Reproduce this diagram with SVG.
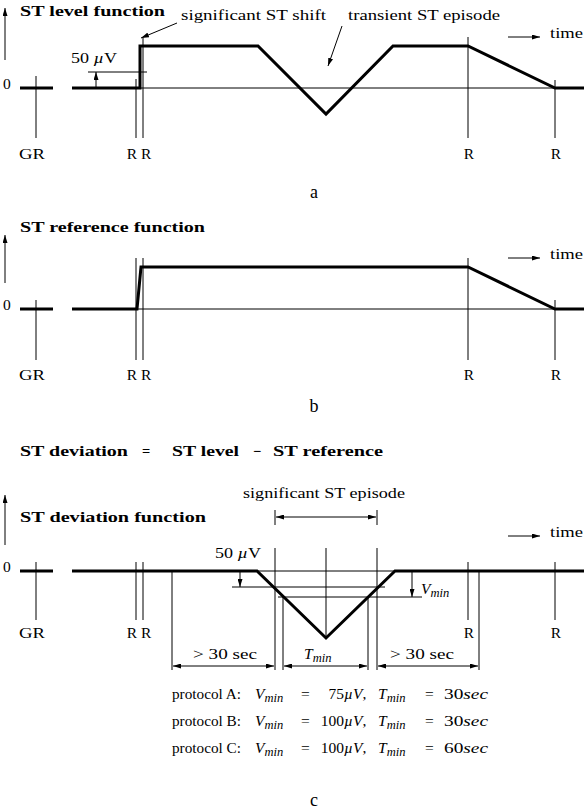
<svg xmlns="http://www.w3.org/2000/svg" width="584" height="810" viewBox="0 0 584 810">
<style>
text{font-family:"Liberation Serif","DejaVu Serif",serif;font-size:15.5px;fill:#000}
.b{font-weight:bold;font-size:14.5px}
.i{font-style:italic}
.sub{font-style:italic;font-size:12.5px}
.thin{stroke:#000;stroke-width:1;fill:none}
.thick{stroke:#000;stroke-width:3;fill:none;stroke-linejoin:miter}
.arr{stroke:#000;stroke-width:1;fill:none;marker-end:url(#ah)}
.dbl{stroke:#000;stroke-width:1;fill:none;marker-end:url(#ah);marker-start:url(#ah)}
.mid{text-anchor:middle}
.end{text-anchor:end}
.lbl{font-size:18px}
</style>
<defs>
<marker id="ah" viewBox="0 0 8 5" refX="8" refY="2.5" markerWidth="8" markerHeight="5" markerUnits="userSpaceOnUse" orient="auto-start-reverse">
<path d="M0,0 L8,2.5 L0,5 z" fill="#000"/>
</marker>
</defs>

<g id="panel-a">
<line class="arr" x1="5" y1="60" x2="5" y2="8"/>
<text class="b" x="20" y="16" textLength="145" lengthAdjust="spacingAndGlyphs">ST level function</text>
<text x="3" y="89">0</text>
<line class="thick" x1="20" y1="88" x2="53" y2="88"/>
<line class="thin" x1="140" y1="88" x2="555" y2="88"/>
<path class="thick" d="M72,88 L140,88 L140,46 L258,46 L326,114 L393,46 L468,46 L555,88 L584,88"/>
<line class="thin" x1="36" y1="76" x2="36" y2="138"/>
<line class="thin" x1="136" y1="79" x2="136" y2="138"/>
<line class="thin" x1="143" y1="38" x2="143" y2="138"/>
<line class="thin" x1="468" y1="37" x2="468" y2="138"/>
<line class="thin" x1="555" y1="80" x2="555" y2="138"/>
<line class="thin" x1="88" y1="72" x2="147" y2="72"/>
<line class="arr" x1="96" y1="88" x2="96" y2="72"/>
<text x="71" y="63" textLength="46" lengthAdjust="spacingAndGlyphs">50 <tspan class="i">µ</tspan>V</text>
<text x="181" y="20" textLength="145" lengthAdjust="spacingAndGlyphs">significant ST shift</text>
<line class="arr" x1="177" y1="23" x2="141" y2="38"/>
<text x="348" y="20" textLength="152" lengthAdjust="spacingAndGlyphs">transient ST episode</text>
<line class="arr" x1="342" y1="26" x2="328" y2="66"/>
<line class="arr" x1="508" y1="37" x2="540" y2="37"/>
<text x="550" y="38" textLength="33" lengthAdjust="spacingAndGlyphs">time</text>
<text x="19" y="159" textLength="26" lengthAdjust="spacingAndGlyphs">GR</text>
<text class="mid" x="139" y="159">R R</text>
<text class="mid" x="469" y="159">R</text>
<text class="mid" x="556" y="159">R</text>
<text class="mid lbl" x="314" y="198">a</text>
</g>

<g id="panel-b">
<line class="arr" x1="5" y1="283" x2="5" y2="235"/>
<text class="b" x="20" y="232" textLength="185" lengthAdjust="spacingAndGlyphs">ST reference function</text>
<text x="3" y="310">0</text>
<line class="thick" x1="20" y1="309" x2="53" y2="309"/>
<line class="thin" x1="138" y1="309" x2="555" y2="309"/>
<path class="thick" d="M72,309 L137,309 L141,267 L468,267 L555,309 L584,309"/>
<line class="thin" x1="36" y1="300" x2="36" y2="360"/>
<line class="thin" x1="136" y1="258" x2="136" y2="360"/>
<line class="thin" x1="143" y1="258" x2="143" y2="360"/>
<line class="thin" x1="468" y1="258" x2="468" y2="360"/>
<line class="thin" x1="555" y1="300" x2="555" y2="360"/>
<line class="arr" x1="508" y1="258" x2="540" y2="258"/>
<text x="550" y="259" textLength="33" lengthAdjust="spacingAndGlyphs">time</text>
<text x="19" y="380" textLength="26" lengthAdjust="spacingAndGlyphs">GR</text>
<text class="mid" x="139" y="380">R R</text>
<text class="mid" x="469" y="380">R</text>
<text class="mid" x="556" y="380">R</text>
<text class="mid lbl" x="314" y="412">b</text>
</g>

<g id="equation">
<text class="b" x="20" y="456" textLength="108" lengthAdjust="spacingAndGlyphs">ST deviation</text>
<text class="b" x="142" y="456">=</text>
<text class="b" x="172" y="456" textLength="67" lengthAdjust="spacingAndGlyphs">ST level</text>
<text class="b" x="253" y="456">−</text>
<text class="b" x="273" y="456" textLength="110" lengthAdjust="spacingAndGlyphs">ST reference</text>
</g>

<g id="panel-c">
<line class="arr" x1="5" y1="545" x2="5" y2="495"/>
<text class="b" x="20" y="522" textLength="186" lengthAdjust="spacingAndGlyphs">ST deviation function</text>
<text x="243" y="498" textLength="162" lengthAdjust="spacingAndGlyphs">significant ST episode</text>
<line class="thin" x1="275" y1="510" x2="275" y2="525"/>
<line class="thin" x1="377" y1="510" x2="377" y2="525"/>
<line class="dbl" x1="276" y1="517" x2="376" y2="517"/>
<text x="3" y="572">0</text>
<line class="thick" x1="20" y1="571" x2="53" y2="571"/>
<line class="thin" x1="257" y1="571" x2="395" y2="571"/>
<path class="thick" d="M72,571 L257,571 L326,638 L395,571 L584,571"/>
<line class="thin" x1="36" y1="562" x2="36" y2="620"/>
<line class="thin" x1="136" y1="562" x2="136" y2="620"/>
<line class="thin" x1="143" y1="562" x2="143" y2="620"/>
<line class="thin" x1="468" y1="562" x2="468" y2="620"/>
<line class="thin" x1="555" y1="562" x2="555" y2="620"/>
<line class="arr" x1="508" y1="536" x2="540" y2="536"/>
<text x="550" y="537" textLength="33" lengthAdjust="spacingAndGlyphs">time</text>
<text x="215" y="558" textLength="46" lengthAdjust="spacingAndGlyphs">50 <tspan class="i">µ</tspan>V</text>
<line class="arr" x1="240" y1="571" x2="240" y2="587"/>
<line class="thin" x1="232" y1="587" x2="385" y2="587"/>
<line class="thin" x1="278" y1="597" x2="422" y2="597"/>
<line class="arr" x1="412" y1="571" x2="412" y2="597"/>
<text class="i" x="421" y="594">V<tspan class="sub" dy="3">min</tspan></text>
<line class="thin" x1="172" y1="571" x2="172" y2="670"/>
<line class="thin" x1="275" y1="548" x2="275" y2="670"/>
<line class="thin" x1="283" y1="597" x2="283" y2="670"/>
<line class="thin" x1="326" y1="548" x2="326" y2="638"/>
<line class="thin" x1="368" y1="597" x2="368" y2="670"/>
<line class="thin" x1="377" y1="548" x2="377" y2="670"/>
<line class="thin" x1="479" y1="571" x2="479" y2="670"/>
<line class="dbl" x1="173" y1="666" x2="274" y2="666"/>
<line class="dbl" x1="284" y1="666" x2="367" y2="666"/>
<line class="dbl" x1="378" y1="666" x2="478" y2="666"/>
<text x="193" y="659" textLength="64" lengthAdjust="spacingAndGlyphs">&gt; 30 sec</text>
<text class="i" x="304" y="659">T<tspan class="sub" dy="3">min</tspan></text>
<text x="390" y="659" textLength="64" lengthAdjust="spacingAndGlyphs">&gt; 30 sec</text>
<text x="19" y="638" textLength="26" lengthAdjust="spacingAndGlyphs">GR</text>
<text class="mid" x="139" y="638">R R</text>
<text class="mid" x="469" y="638">R</text>
<text class="mid" x="556" y="638">R</text>
</g>

<g id="protocols">
<text x="172" y="699" textLength="69" lengthAdjust="spacingAndGlyphs">protocol A:</text>
<text class="i" x="255" y="699">V<tspan class="sub" dy="3">min</tspan></text>
<text x="301" y="699">=</text>
<text class="end" x="344" y="699">75</text>
<text x="344" y="699"><tspan class="i">µV</tspan>,</text>
<text class="i" x="378" y="699">T<tspan class="sub" dy="3">min</tspan></text>
<text x="425" y="699">=</text>
<text x="444" y="699" textLength="44" lengthAdjust="spacingAndGlyphs">30<tspan class="i">sec</tspan></text>

<text x="172" y="726" textLength="69" lengthAdjust="spacingAndGlyphs">protocol B:</text>
<text class="i" x="255" y="726">V<tspan class="sub" dy="3">min</tspan></text>
<text x="301" y="726">=</text>
<text class="end" x="344" y="726">100</text>
<text x="344" y="726"><tspan class="i">µV</tspan>,</text>
<text class="i" x="378" y="726">T<tspan class="sub" dy="3">min</tspan></text>
<text x="425" y="726">=</text>
<text x="444" y="726" textLength="44" lengthAdjust="spacingAndGlyphs">30<tspan class="i">sec</tspan></text>

<text x="172" y="753" textLength="69" lengthAdjust="spacingAndGlyphs">protocol C:</text>
<text class="i" x="255" y="753">V<tspan class="sub" dy="3">min</tspan></text>
<text x="301" y="753">=</text>
<text class="end" x="344" y="753">100</text>
<text x="344" y="753"><tspan class="i">µV</tspan>,</text>
<text class="i" x="378" y="753">T<tspan class="sub" dy="3">min</tspan></text>
<text x="425" y="753">=</text>
<text x="444" y="753" textLength="44" lengthAdjust="spacingAndGlyphs">60<tspan class="i">sec</tspan></text>
<text class="mid lbl" x="314" y="806">c</text>
</g>
</svg>
